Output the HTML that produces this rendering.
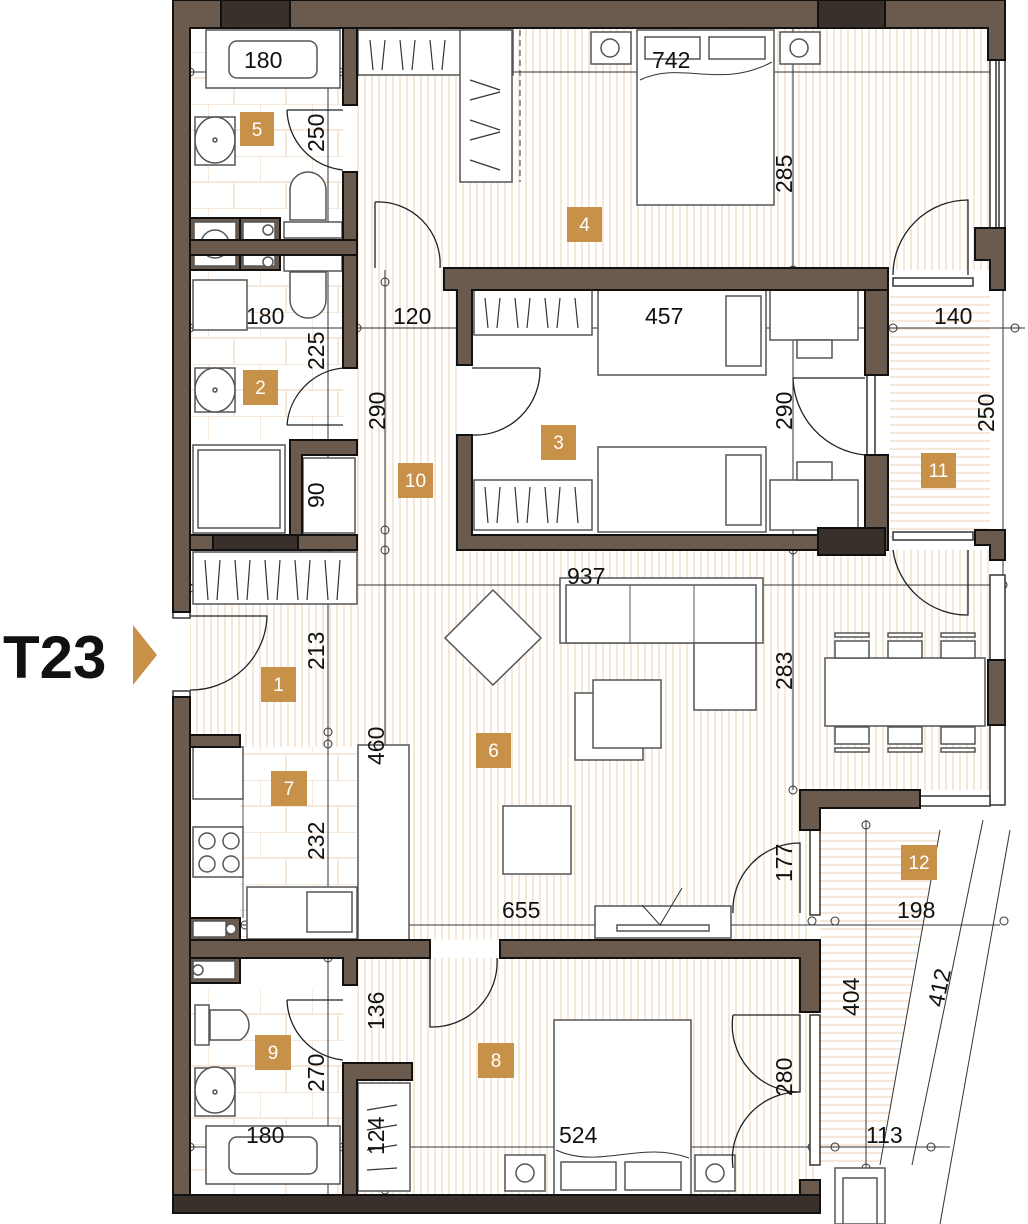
<!DOCTYPE html>
<html><head><meta charset="utf-8"><style>
html,body{margin:0;padding:0;background:#fff;}
svg{display:block}
text{font-family:"Liberation Sans",sans-serif}
.d{font-size:23px;fill:#111}
.lb{font-size:19px;fill:#fff;text-anchor:middle}
.w{fill:#6b5a4e;stroke:#111;stroke-width:2}
.dk{fill:#3a302b;stroke:#111;stroke-width:2}
.f{fill:#fff;stroke:#555;stroke-width:1.5}
.ln{stroke:#333;stroke-width:1;fill:none}
.dr{stroke:#222;stroke-width:1.3;fill:none}
</style></head><body>
<svg width="1028" height="1224" viewBox="0 0 1028 1224" xmlns="http://www.w3.org/2000/svg">
<defs>
<pattern id="v" width="7" height="10" patternUnits="userSpaceOnUse"><rect width="7" height="10" fill="#fff"/><rect width="2" height="10" fill="#f6e8d8"/></pattern>
<pattern id="h" width="10" height="8" patternUnits="userSpaceOnUse"><rect width="10" height="8" fill="#fff"/><rect width="10" height="2" fill="#f6e8d8"/></pattern>
<pattern id="t" width="52" height="52" patternUnits="userSpaceOnUse"><rect width="52" height="52" fill="#fff"/><path d="M0 0H52M0 26H52M0 0V26M26 26V52" stroke="#f3e2cf" stroke-width="1.5"/></pattern>
</defs>
<!-- floors -->
<rect x="357" y="28" width="635" height="242" fill="url(#v)"/>
<rect x="357" y="270" width="100" height="280" fill="url(#v)"/>
<rect x="190" y="550" width="800" height="240" fill="url(#v)"/>
<rect x="190" y="612" width="240" height="135" fill="url(#v)"/>
<rect x="410" y="740" width="400" height="200" fill="url(#v)"/>
<rect x="357" y="958" width="460" height="240" fill="url(#v)"/>
<rect x="890" y="290" width="100" height="250" fill="url(#h)"/>
<polygon points="820,830 940,830 880,1165 820,1165" fill="url(#h)"/>
<rect x="190" y="28" width="153" height="190" fill="url(#t)"/>
<rect x="190" y="255" width="153" height="185" fill="url(#t)"/>
<rect x="190" y="990" width="153" height="205" fill="url(#t)"/>
<rect x="240" y="747" width="170" height="193" fill="url(#t)"/>

<!-- dimension lines -->
<g class="ln">
<line x1="190" y1="72" x2="1005" y2="72"/>
<line x1="180" y1="328" x2="1025" y2="328"/>
<line x1="180" y1="585" x2="1005" y2="585"/>
<line x1="230" y1="925" x2="1000" y2="925"/>
<line x1="190" y1="1147" x2="950" y2="1147"/>
<line x1="328" y1="28" x2="328" y2="1195"/>
<line x1="385" y1="270" x2="385" y2="940"/>
<line x1="793" y1="28" x2="793" y2="790"/>
<line x1="866" y1="820" x2="866" y2="1190"/>
<line x1="1003" y1="60" x2="1003" y2="800"/>
<line x1="983" y1="820" x2="912" y2="1165"/>
<line x1="940" y1="830" x2="880" y2="1165"/>
<line x1="1010" y1="830" x2="940" y2="1224"/>
</g>
<g fill="none" stroke="#333" stroke-width="1">
<circle cx="190" cy="72" r="4"/><circle cx="343" cy="72" r="4"/><circle cx="357" cy="72" r="4"/><circle cx="328" cy="28" r="4"/><circle cx="328" cy="240" r="4"/><circle cx="328" cy="252" r="4"/>
<circle cx="190" cy="328" r="4"/><circle cx="357" cy="328" r="4"/><circle cx="472" cy="328" r="4"/><circle cx="893" cy="328" r="4"/><circle cx="1015" cy="328" r="4"/>
<circle cx="385" cy="282" r="4"/><circle cx="385" cy="530" r="4"/><circle cx="385" cy="550" r="4"/><circle cx="328" cy="550" r="4"/><circle cx="190" cy="588" r="4"/><circle cx="1003" cy="585" r="4"/>
<circle cx="328" cy="732" r="4"/><circle cx="328" cy="744" r="4"/><circle cx="245" cy="925" r="4"/><circle cx="328" cy="940" r="4"/><circle cx="328" cy="958" r="4"/>
<circle cx="793" cy="270" r="4"/><circle cx="793" cy="550" r="4"/><circle cx="793" cy="790" r="4"/><circle cx="866" cy="825" r="4"/><circle cx="866" cy="1168" r="4"/>
<circle cx="812" cy="921" r="4"/><circle cx="835" cy="921" r="4"/><circle cx="1004" cy="921" r="4"/><circle cx="812" cy="1147" r="4"/><circle cx="835" cy="1147" r="4"/><circle cx="931" cy="1147" r="4"/>
<circle cx="190" cy="1147" r="4"/><circle cx="343" cy="1147" r="4"/><circle cx="357" cy="1147" r="4"/><circle cx="385" cy="1075" r="4"/><circle cx="385" cy="1190" r="4"/>
</g>

<!-- furniture: bathroom 5 -->
<rect x="206" y="30" width="134" height="58" class="f"/><rect x="229" y="41" width="88" height="37" rx="8" class="f"/>
<rect x="195" y="117" width="40" height="48" class="f"/><ellipse cx="215" cy="140" rx="20" ry="23" class="f"/><circle cx="215" cy="140" r="2" class="f"/>
<path d="M290 220V190a18 18 0 0 1 36 0V220Z" class="f"/><rect x="284" y="222" width="58" height="16" class="f"/>
<rect x="190" y="218" width="50" height="52" class="w"/><rect x="194" y="222" width="42" height="44" class="f"/><circle cx="215" cy="244" r="14" class="f"/>
<rect x="240" y="218" width="40" height="52" class="w"/><rect x="243" y="222" width="32" height="44" class="f"/><circle cx="268" cy="230" r="5" class="f"/><circle cx="268" cy="262" r="5" class="f"/>
<!-- bath 2 -->
<rect x="284" y="255" width="58" height="16" class="f"/><path d="M290 272V300a18 18 0 0 0 36 0V272Z" class="f"/>
<rect x="193" y="280" width="54" height="50" class="f"/>
<rect x="195" y="368" width="40" height="44" class="f"/><ellipse cx="215" cy="390" rx="20" ry="22" class="f"/><circle cx="215" cy="390" r="2" class="f"/>
<rect x="193" y="445" width="92" height="88" class="f"/><rect x="198" y="450" width="82" height="78" class="f"/>
<rect x="303" y="458" width="52" height="75" class="f"/>
<!-- wardrobe 4 -->
<rect x="358" y="30" width="155" height="45" class="f"/>
<rect x="460" y="30" width="52" height="152" class="f"/>
<path d="M370 40l3 30M385 40l-3 30M400 40l3 30M415 40l-3 30M430 40l3 30M445 40l-3 30M470 80l30 10M470 100l30 -8M470 120l30 10M470 140l30 -8M470 160l30 10" stroke="#333" stroke-width="1.2"/>
<line x1="520" y1="30" x2="520" y2="182" stroke="#333" stroke-dasharray="6,4"/>
<!-- bed 4 -->
<rect x="637" y="30" width="137" height="175" class="f"/><rect x="645" y="37" width="55" height="22" class="f"/><rect x="709" y="37" width="56" height="22" class="f"/>
<path d="M640 80C680 60 720 90 772 62" class="ln"/>
<rect x="591" y="32" width="40" height="32" class="f"/><circle cx="610" cy="48" r="9" class="f"/><rect x="780" y="32" width="40" height="32" class="f"/><circle cx="799" cy="48" r="9" class="f"/>
<!-- room 3 -->
<rect x="474" y="290" width="118" height="45" class="f"/><rect x="474" y="480" width="118" height="50" class="f"/>
<path d="M485 298l3 30M500 298l-3 30M515 298l3 30M530 298l-3 30M545 298l3 30M560 298l-3 30M575 298l3 30M485 487l3 36M500 487l-3 36M515 487l3 36M530 487l-3 36M545 487l3 36M560 487l-3 36M575 487l3 36" stroke="#333" stroke-width="1.2"/>
<rect x="598" y="290" width="168" height="85" class="f"/><rect x="726" y="296" width="35" height="70" class="f"/>
<rect x="598" y="447" width="168" height="85" class="f"/><rect x="726" y="455" width="35" height="70" class="f"/>
<rect x="770" y="290" width="88" height="50" class="f"/><rect x="797" y="340" width="35" height="18" class="f"/>
<rect x="770" y="480" width="88" height="50" class="f"/><rect x="797" y="462" width="35" height="18" class="f"/>
<!-- wardrobe hall -->
<rect x="193" y="552" width="164" height="52" class="f"/>
<path d="M205 560l3 40M220 560l-3 40M235 560l3 40M250 560l-3 40M265 560l3 40M280 560l-3 40M295 560l3 40M310 560l-3 40M325 560l3 40M340 560l-3 40" stroke="#333" stroke-width="1.2"/>
<!-- living -->
<polygon points="493,590 541,638 493,685 445,638" class="f"/>
<rect x="560" y="578" width="203" height="65" class="f"/><rect x="566" y="585" width="190" height="58" class="f"/><rect x="694" y="643" width="62" height="67" class="f"/>
<line x1="630" y1="585" x2="630" y2="643" stroke="#555"/><line x1="694" y1="585" x2="694" y2="643" stroke="#555"/>
<rect x="575" y="693" width="68" height="67" class="f"/><rect x="593" y="680" width="68" height="68" class="f"/>
<rect x="503" y="806" width="68" height="68" class="f"/>
<rect x="595" y="906" width="136" height="32" class="f"/><rect x="617" y="925" width="92" height="6" class="f"/><path d="M642 905l18 20l22 -37" class="ln"/>
<rect x="825" y="658" width="160" height="68" class="f"/>
<g class="f"><rect x="835" y="641" width="34" height="17"/><rect x="888" y="641" width="34" height="17"/><rect x="941" y="641" width="34" height="17"/>
<rect x="835" y="633" width="34" height="4"/><rect x="888" y="633" width="34" height="4"/><rect x="941" y="633" width="34" height="4"/>
<rect x="835" y="727" width="34" height="17"/><rect x="888" y="727" width="34" height="17"/><rect x="941" y="727" width="34" height="17"/>
<rect x="835" y="748" width="34" height="4"/><rect x="888" y="748" width="34" height="4"/><rect x="941" y="748" width="34" height="4"/></g>
<!-- kitchen -->
<rect x="193" y="747" width="50" height="52" class="f"/><rect x="193" y="827" width="50" height="50" class="f"/>
<circle cx="207" cy="841" r="8" class="f"/><circle cx="231" cy="841" r="8" class="f"/><circle cx="207" cy="864" r="8" class="f"/><circle cx="231" cy="864" r="8" class="f"/>
<line x1="243" y1="747" x2="243" y2="918" stroke="#555"/>
<rect x="247" y="887" width="110" height="52" class="f"/><rect x="307" y="892" width="45" height="40" class="f"/>
<rect x="358" y="745" width="51" height="195" class="f"/>
<rect x="190" y="918" width="50" height="22" class="w"/><rect x="193" y="921" width="33" height="16" class="f"/><circle cx="231" cy="929" r="5" class="f"/>
<rect x="190" y="958" width="50" height="25" class="w"/><rect x="193" y="961" width="42" height="18" class="f"/><circle cx="198" cy="970" r="5" class="f"/>
<!-- bath 9 -->
<rect x="195" y="1005" width="14" height="40" class="f"/><path d="M210 1010h30a17 17 0 0 1 0 30h-30Z" class="f"/>
<rect x="195" y="1068" width="40" height="48" class="f"/><ellipse cx="215" cy="1090" rx="20" ry="23" class="f"/><circle cx="215" cy="1092" r="2" class="f"/>
<rect x="206" y="1126" width="134" height="58" class="f"/><rect x="229" y="1137" width="88" height="37" rx="8" class="f"/>
<rect x="358" y="1083" width="52" height="108" class="f"/>
<path d="M367 1110l30 -5M367 1130l30 -5M367 1150l30 -5M367 1170l30 -2" stroke="#333" stroke-width="1.2"/>
<!-- bed 8 -->
<rect x="554" y="1020" width="137" height="175" class="f"/><rect x="561" y="1162" width="55" height="28" class="f"/><rect x="625" y="1162" width="56" height="28" class="f"/>
<path d="M556 1150C600 1170 640 1140 689 1158" class="ln"/>
<rect x="505" y="1155" width="40" height="36" class="f"/><circle cx="525" cy="1173" r="9" class="f"/><rect x="695" y="1155" width="40" height="36" class="f"/><circle cx="715" cy="1173" r="9" class="f"/>
<!-- balcony 12 box bottom -->
<rect x="835" y="1168" width="50" height="56" class="f"/><rect x="843" y="1178" width="34" height="46" class="f"/>

<!-- doors -->
<g class="dr">
<path d="M287 110A62 62 0 0 0 343 170M287 110H343"/>
<path d="M375 202A62 62 0 0 1 440 268M375 202V268"/>
<path d="M287 425A62 62 0 0 1 343 368M287 425H343"/>
<path d="M472 435A65 65 0 0 0 540 368M540 368H472"/>
<path d="M793 378A80 80 0 0 0 865 455M793 378H865"/>
<path d="M893 275A75 75 0 0 1 968 200V275"/>
<path d="M893 550A75 75 0 0 0 968 615V550"/>
<path d="M190 690A76 76 0 0 0 267 616H190"/>
<path d="M430 958V1027A65 65 0 0 0 497 958"/>
<path d="M287 1000A62 62 0 0 0 343 1060M287 1000H343"/>
<path d="M733 913A67 67 0 0 1 800 843V913"/>
<path d="M733 1015A67 67 0 0 0 800 1092V1015H733"/>
<path d="M733 1168A67 67 0 0 1 800 1092"/>
</g>
<!-- windows -->
<g fill="#fff" stroke="#333" stroke-width="1.5">
<rect x="990" y="60" width="15" height="168"/><rect x="996" y="60" width="3" height="168"/>
<rect x="893" y="278" width="80" height="8"/><rect x="893" y="532" width="80" height="8"/>
<rect x="867" y="375" width="8" height="80"/>
<rect x="990" y="575" width="15" height="85"/><rect x="990" y="725" width="15" height="80"/>
<rect x="920" y="796" width="70" height="10"/>
<rect x="810" y="830" width="10" height="85"/><rect x="810" y="1015" width="10" height="150"/>
<rect x="173" y="612" width="17" height="6"/><rect x="173" y="691" width="17" height="6"/>
</g>

<!-- walls -->
<g class="w">
<path d="M173 0H1005V60H988V28H190V612H173Z"/>
<path d="M173 697H190V1195H820V1213H173Z"/>
<rect x="343" y="28" width="14" height="77"/>
<rect x="343" y="172" width="14" height="68"/>
<rect x="190" y="240" width="167" height="15"/>
<rect x="343" y="255" width="14" height="113"/>
<path d="M290 440H357V455H302V535H290Z"/>
<rect x="190" y="535" width="167" height="15"/>
<path d="M444 268H888V290H472V365H457V290H444Z"/>
<path d="M457 435H472V535H865V455H888V550H457Z"/>
<rect x="865" y="290" width="23" height="85"/>
<path d="M975 228H1005V290H990V260H975Z"/>
<path d="M975 530H1005V560H990V545H975Z"/>
<rect x="988" y="660" width="17" height="65"/>
<path d="M800 790H920V808H820V830H800Z"/>
<path d="M190 735H240V747H190Z"/>
<path d="M190 940H430V958H357V985H343V958H190Z"/>
<path d="M500 940H820V1012H800V958H500Z"/>
<path d="M343 1063H412V1080H357V1195H343Z"/>
<rect x="800" y="1180" width="20" height="15"/>
</g>
<g class="dk">
<rect x="221" y="0" width="69" height="28"/><rect x="818" y="0" width="67" height="28"/>
<rect x="213" y="535" width="85" height="15"/>
<rect x="818" y="528" width="67" height="27"/>
<rect x="173" y="1195" width="647" height="18"/>
</g>

<!-- dimension text -->
<g class="d">
<text x="244" y="68">180</text>
<text x="652" y="68">742</text>
<text x="246" y="324">180</text>
<text x="393" y="324">120</text>
<text x="645" y="324">457</text>
<text x="934" y="324">140</text>
<text x="567" y="584">937</text>
<text x="502" y="918">655</text>
<text x="897" y="918">198</text>
<text x="246" y="1143">180</text>
<text x="559" y="1143">524</text>
<text x="866" y="1143">113</text>
<text transform="translate(324,152) rotate(-90)">250</text>
<text transform="translate(792,193) rotate(-90)">285</text>
<text transform="translate(324,370) rotate(-90)">225</text>
<text transform="translate(385,430) rotate(-90)">290</text>
<text transform="translate(792,430) rotate(-90)">290</text>
<text transform="translate(994,432) rotate(-90)">250</text>
<text transform="translate(324,508) rotate(-90)">90</text>
<text transform="translate(324,670) rotate(-90)">213</text>
<text transform="translate(792,690) rotate(-90)">283</text>
<text transform="translate(384,765) rotate(-90)">460</text>
<text transform="translate(324,860) rotate(-90)">232</text>
<text transform="translate(792,882) rotate(-90)">177</text>
<text transform="translate(859,1016) rotate(-90)">404</text>
<text transform="translate(943,1008) rotate(-78)">412</text>
<text transform="translate(384,1030) rotate(-90)">136</text>
<text transform="translate(324,1092) rotate(-90)">270</text>
<text transform="translate(792,1096) rotate(-90)">280</text>
<text transform="translate(384,1155) rotate(-90)">124</text>
</g>

<!-- room labels -->
<g fill="#c8914a">
<rect x="240" y="112" width="34" height="34"/><rect x="567" y="207" width="35" height="35"/>
<rect x="243" y="370" width="35" height="35"/><rect x="541" y="425" width="35" height="35"/>
<rect x="398" y="463" width="35" height="35"/><rect x="921" y="453" width="35" height="35"/>
<rect x="261" y="667" width="35" height="35"/><rect x="476" y="733" width="35" height="35"/>
<rect x="271" y="771" width="36" height="35"/><rect x="901" y="845" width="36" height="35"/>
<rect x="255" y="1035" width="36" height="35"/><rect x="478" y="1043" width="36" height="35"/>
</g>
<g class="lb">
<text x="257" y="136">5</text><text x="584.5" y="231">4</text><text x="260.5" y="394">2</text><text x="558.5" y="449">3</text>
<text x="415.5" y="487">10</text><text x="938.5" y="477">11</text><text x="278.5" y="691">1</text><text x="493.5" y="757">6</text>
<text x="289" y="795">7</text><text x="919" y="869">12</text><text x="273" y="1059">9</text><text x="496" y="1067">8</text>
</g>

<!-- T23 -->
<text x="3" y="678" style="font-size:60px;font-weight:bold;fill:#111">T23</text>
<polygon points="133,625 157,655 133,685" fill="#c8914a"/>
</svg>
</body></html>
